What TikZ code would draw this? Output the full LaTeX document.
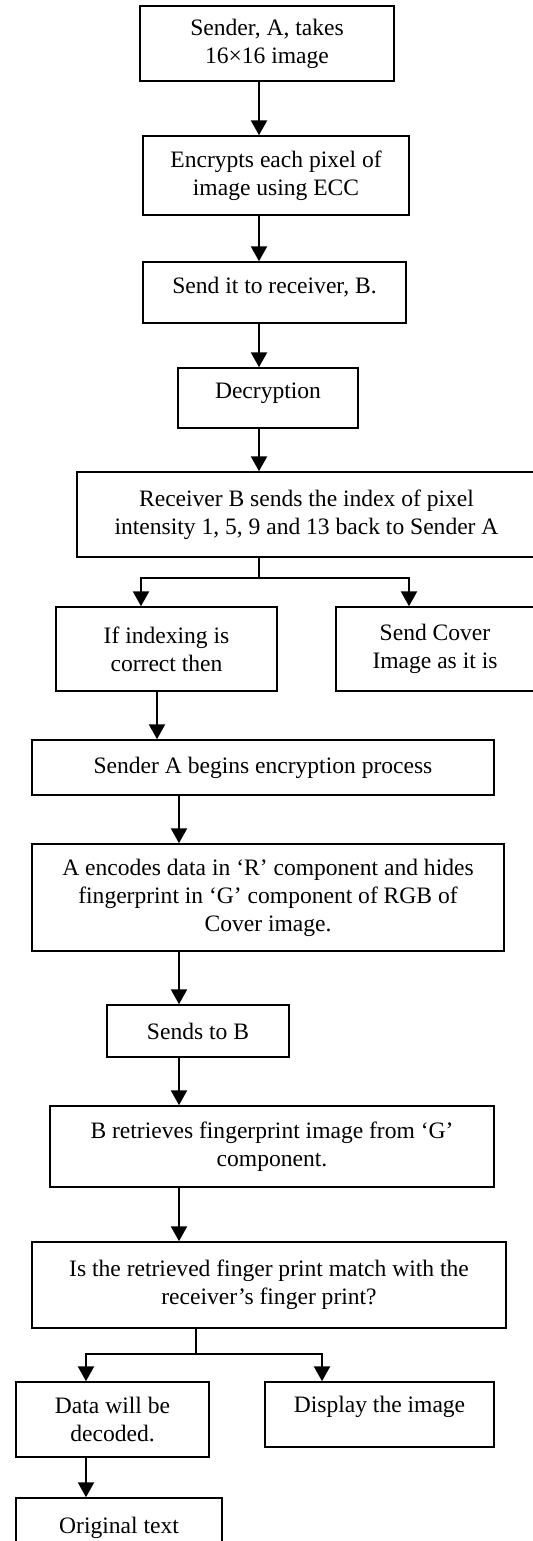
\documentclass[tikz,border=0pt]{standalone}
\usepackage{fontspec}
\setmainfont{Liberation Serif}
\usetikzlibrary{
  arrows.meta,
}
\tikzset{
  stepbox/.style={
    rectangle,
    draw=black,
    line width=0.85pt,
    text centered,
    align=center,
    inner sep=0pt,
    font=\fontsize{13.4}{15.9}\selectfont,
  },
  arrow/.style={
    line width=1.3pt,
    -{Triangle[length=0.3cm, width=0.32cm]},
  },
  link/.style={
    line width=1.3pt,
  },
}

\begin{document}
\begin{tikzpicture}
  \useasboundingbox (0,0) rectangle (10.64,-30.82);

  % Sender side
  \node (take) [stepbox, minimum width=5.08cm, minimum height=1.5cm] at (5.34,-0.87) {Sender, A, takes\\16×16 image};
  \node (encrypt) [stepbox, minimum width=5.32cm, minimum height=1.58cm] at (5.52,-3.51) {Encrypts each pixel of\\image using ECC};
  \node (send) [stepbox, minimum width=5.26cm, minimum height=1.22cm, text depth=0.3cm] at (5.49,-5.85) {Send it to receiver, B.};

  % Receiver side
  \node (decrypt) [stepbox, minimum width=3.6cm, minimum height=1.2cm, text depth=0.3cm] at (5.36,-7.96) {Decryption};
  \node (index) [stepbox, minimum width=9.18cm, minimum height=1.7cm] at (6.13,-10.29) {Receiver B sends the index of pixel\\intensity 1, 5, 9 and 13 back to Sender A};
  \node (correct) [stepbox, minimum width=4.42cm, minimum height=1.68cm] at (3.33,-12.98) {If indexing is\\correct then};
  \node (cover) [stepbox, minimum width=3.96cm, minimum height=1.68cm] at (8.7,-12.98) {Send Cover\\Image as it is};

  % Hiding
  \node (begin) [stepbox, minimum width=9.24cm, minimum height=1.1cm] at (5.26,-15.35) {Sender A begins encryption process};
  \node (encode) [stepbox, minimum width=9.44cm, minimum height=2.14cm] at (5.36,-17.95) {A encodes data in ‘R’ component and hides\\fingerprint in ‘G’ component of RGB of\\Cover image.};
  \node (tob) [stepbox, minimum width=3.64cm, minimum height=1.04cm] at (3.96,-20.62) {Sends to B};

  % Checking
  \node (retrieve) [stepbox, minimum width=8.88cm, minimum height=1.62cm] at (5.44,-22.93) {B retrieves fingerprint image from ‘G’\\component.};
  \node (match) [stepbox, minimum width=9.48cm, minimum height=1.72cm] at (5.38,-25.7) {Is the retrieved finger print match with the\\receiver’s finger print?};
  \node (decode) [stepbox, minimum width=3.86cm, minimum height=1.5cm] at (2.25,-28.39) {Data will be\\decoded.};
  \node (display) [stepbox, minimum width=4.58cm, minimum height=1.3cm, text depth=0.4cm] at (7.59,-28.29) {Display the image};
  \node (original) [stepbox, minimum width=4.12cm, minimum height=1.2cm] at (2.38,-30.56) {Original text};

  % Arrow lines
  \coordinate (spineA) at (5.18,0);
  \coordinate (spineB) at (3.14,0);
  \coordinate (spineC) at (3.58,0);
  \coordinate (forkA) at (5.18,-11.56);
  \coordinate (leftA) at (2.82,0);
  \coordinate (rightA) at (8.18,0);
  \coordinate (forkB) at (3.92,-27.08);
  \coordinate (leftB) at (1.72,0);
  \coordinate (rightB) at (6.44,0);

  \draw [arrow] (take.south -| spineA) to (encrypt.north -| spineA);
  \draw [arrow] (encrypt.south -| spineA) to (send.north -| spineA);
  \draw [arrow] (send.south -| spineA) to (decrypt.north -| spineA);
  \draw [arrow] (decrypt.south -| spineA) to (index.north -| spineA);

  \draw [link] (index.south -| spineA) -- (forkA);
  \draw [arrow] (forkA) -| (correct.north -| leftA);
  \draw [arrow] (forkA) -| (cover.north -| rightA);

  \draw [arrow] (correct.south -| spineB) to (begin.north -| spineB);
  \draw [arrow] (begin.south -| spineC) to (encode.north -| spineC);
  \draw [arrow] (encode.south -| spineC) to (tob.north -| spineC);
  \draw [arrow] (tob.south -| spineC) to (retrieve.north -| spineC);
  \draw [arrow] (retrieve.south -| spineC) to (match.north -| spineC);

  \draw [link] (match.south -| forkB) -- (forkB);
  \draw [arrow] (forkB) -| (decode.north -| leftB);
  \draw [arrow] (forkB) -| (display.north -| rightB);

  \draw [arrow] (decode.south -| leftB) to (original.north -| leftB);

\end{tikzpicture}
\end{document}
